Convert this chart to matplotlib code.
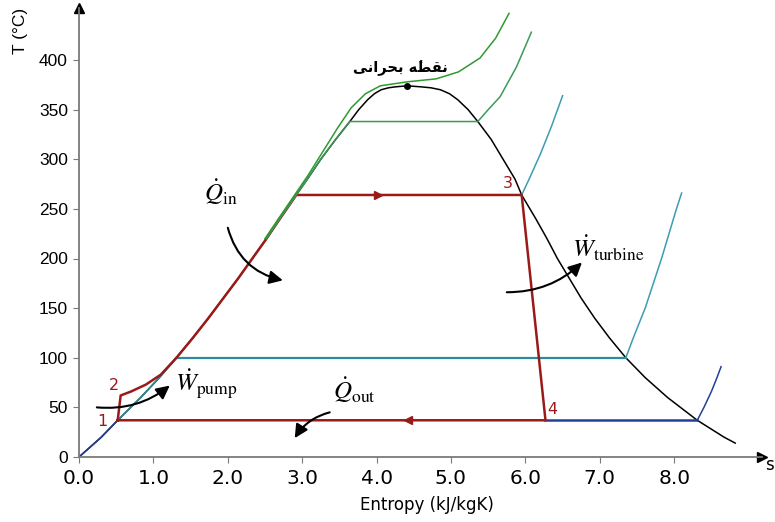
import matplotlib.pyplot as plt

plt.rcParams['mathtext.fontset'] = 'stix'

# saturation dome of water
sat_T = [0, 14, 20, 37, 60, 80, 100, 120, 140, 160, 180, 200, 220, 240, 264,
         280, 300, 320, 338, 350, 360, 366, 370, 372, 373, 374]
sat_s_liq = [0.00, 0.21, 0.30, 0.52, 0.83, 1.08, 1.31, 1.53, 1.74, 1.94, 2.14,
             2.33, 2.52, 2.70, 2.92, 3.07, 3.25, 3.45, 3.64, 3.76, 3.88, 3.97,
             4.06, 4.16, 4.26, 4.41]
sat_s_vap = [9.16, 8.82, 8.67, 8.31, 7.91, 7.61, 7.35, 7.13, 6.93, 6.75, 6.59,
             6.43, 6.29, 6.14, 5.95, 5.86, 5.70, 5.54, 5.36, 5.23, 5.09, 4.98,
             4.86, 4.73, 4.59, 4.41]
critical_s, critical_T = 4.41, 374

# cycle state points
point_s = [0.52, 0.56, 5.95, 6.27]
point_T = [37, 62, 264, 37]
point_labels = ["1", "2", "3", "4"]

# compressed liquid from 2 up to the dome
pump_s = [0.56, 0.70, 0.90, 1.10, 1.31]
pump_T = [62, 66, 73, 83, 100]

# superheated parts of the isobars
low_s = [8.31, 8.40, 8.50, 8.57, 8.63]
low_T = [37, 50, 66, 79, 91]
atm_s = [7.35, 7.45, 7.61, 7.83, 8.03, 8.10]
atm_T = [100, 120, 150, 200, 250, 266]
boiler_s = [5.95, 6.05, 6.20, 6.35, 6.50]
boiler_T = [264, 280, 305, 333, 364]
high_s = [5.36, 5.50, 5.66, 5.88, 6.08]
high_T = [338, 350, 363, 393, 428]
super_s = [2.50, 2.68, 2.88, 3.08, 3.28, 3.48, 3.66, 3.85, 4.05, 4.41, 4.80,
           5.10, 5.39, 5.60, 5.78]
super_T = [220, 240, 262, 284, 308, 332, 352, 366, 374, 378, 381, 388, 402,
           422, 447]

red = "#9a1a1a"
blue = "#22409a"
teal = "#2a8c9c"
cyan = "#3c9cb4"
green = "#3a9a5a"
dark_green = "#2f9a2f"


def dome_part(T_low, T_high):
    s_part = [s for s, T in zip(sat_s_liq, sat_T) if T_low <= T <= T_high]
    T_part = [T for T in sat_T if T_low <= T <= T_high]
    return s_part, T_part


def curved_arrow(ax, start, end, rad):
    ax.annotate("", xy=end, xytext=start,
                arrowprops=dict(arrowstyle="-|>", color="black", lw=1.5,
                                mutation_scale=20, shrinkA=0, shrinkB=0,
                                connectionstyle="arc3,rad=%s" % rad))


fig = plt.figure(figsize=(7.75, 5.22), dpi=100)
ax = fig.add_axes([79 / 775, 65 / 522, 683 / 775, 449 / 522])
ax.set_xlim(0, 683 / 74.4)
ax.set_ylim(0, 449 / 0.9925)

# dome
ax.plot(sat_s_liq, sat_T, color="black", lw=1.1, zorder=1)
ax.plot(sat_s_vap[1:], sat_T[1:], color="black", lw=1.1, zorder=1)

# low pressure isobar
s, T = dome_part(0, 37)
ax.plot(s, T, color=blue, lw=1.2, zorder=2)
ax.plot([point_s[3], sat_s_vap[3]], [37, 37], color=blue, lw=1.8, zorder=2)
ax.plot(low_s, low_T, color=blue, lw=1.1, zorder=2)

# 100 C isobar
s, T = dome_part(37, 100)
ax.plot(s, T, color=teal, lw=1.2, zorder=2)
ax.plot([1.31, 7.35], [100, 100], color=teal, lw=1.6, zorder=2)
ax.plot(atm_s, atm_T, color=cyan, lw=1.1, zorder=2)

# isobar through 3
ax.plot(boiler_s, boiler_T, color=cyan, lw=1.1, zorder=2)

# cycle
s, T = dome_part(100, 264)
cycle_s = [point_s[0]] + pump_s + s[1:] + [point_s[2], point_s[3], point_s[0]]
cycle_T = [point_T[0]] + pump_T + T[1:] + [point_T[2], point_T[3], point_T[0]]
ax.plot(cycle_s, cycle_T, color=red, lw=1.8, zorder=3)
ax.plot(4.02, 264, marker=">", color=red, ms=6, zorder=4)
ax.plot(4.42, 37, marker="<", color=red, ms=6, zorder=4)

label_offsets = [(-11, -1), (-5, 7), (-10, 8), (5, 8)]
for s0, T0, text, (dx, dy) in zip(point_s, point_T, point_labels, label_offsets):
    ax.annotate(text, (s0, T0), xytext=(dx, dy), textcoords="offset points",
                color=red, fontsize=11.5, ha="center", va="center")

# high pressure isobars near the critical point
s, T = dome_part(220, 338)
ax.plot(s + [5.36] + high_s, T + [338] + high_T, color=green, lw=1.1, zorder=5)
ax.plot(super_s, super_T, color=dark_green, lw=1.1, zorder=5)

ax.plot(critical_s, critical_T, "o", color="black", ms=4, zorder=6)
# "نقطهٔ بحرانی" written in shaped glyphs, visual order
ax.text(4.32, 392, "\ufef0\ufee7\ufe8d\ufeae\ufea4\ufe91 \ufeea\u0654\ufec4\ufed8\ufee7",
        fontsize=10.5, fontweight="bold", ha="center", va="center",
        family=["DejaVu Sans"])

# heat and work labels
ax.text(1.91, 267, r"$\dot{Q}_{\mathrm{in}}$", fontsize=18, ha="center", va="center")
ax.text(1.71, 73, r"$\dot{W}_{\mathrm{pump}}$", fontsize=18, ha="center", va="center")
ax.text(3.70, 67, r"$\dot{Q}_{\mathrm{out}}$", fontsize=18, ha="center", va="center")
ax.text(7.11, 210, r"$\dot{W}_{\mathrm{turbine}}$", fontsize=18, ha="center", va="center")
curved_arrow(ax, (2.00, 231), (2.74, 178), 0.3)
curved_arrow(ax, (5.75, 166), (6.76, 196), 0.2)
curved_arrow(ax, (0.24, 50), (1.22, 72), 0.2)
curved_arrow(ax, (3.37, 45), (2.90, 19), 0.2)

# axes with arrow heads
for side in ["top", "right"]:
    ax.spines[side].set_visible(False)
for side in ["left", "bottom"]:
    ax.spines[side].set_color("#7a7a7a")
    ax.spines[side].set_linewidth(1.3)
ax.plot(1, 0, ">", color="black", ms=7, transform=ax.transAxes, clip_on=False)
ax.plot(0, 1, "^", color="black", ms=7, transform=ax.transAxes, clip_on=False)

ax.set_xticks(range(9))
ax.set_xticklabels(["%.1f" % v for v in range(9)], fontsize=14.5,
                   family="DejaVu Sans")
ax.set_yticks(range(0, 401, 50))
ax.set_yticklabels([str(v) for v in range(0, 401, 50)], fontsize=12.5,
                   family="Liberation Sans")
ax.tick_params(axis="both", direction="out", length=4, color="#7a7a7a")
ax.tick_params(axis="x", pad=5)
ax.tick_params(axis="y", pad=4)

fig.text(427 / 775, 1 - 505 / 522, "Entropy (kJ/kgK)", fontsize=12,
         ha="center", va="center", family="DejaVu Sans")
fig.text(20 / 775, 1 - 31 / 522, "T (°C)", fontsize=12.5, rotation=90,
         ha="center", va="center", family="Liberation Sans")
fig.text(765 / 775, 1 - 465 / 522, "s", fontsize=12, ha="left", va="center",
         family="DejaVu Sans")

fig.savefig("out.png", dpi=100)
